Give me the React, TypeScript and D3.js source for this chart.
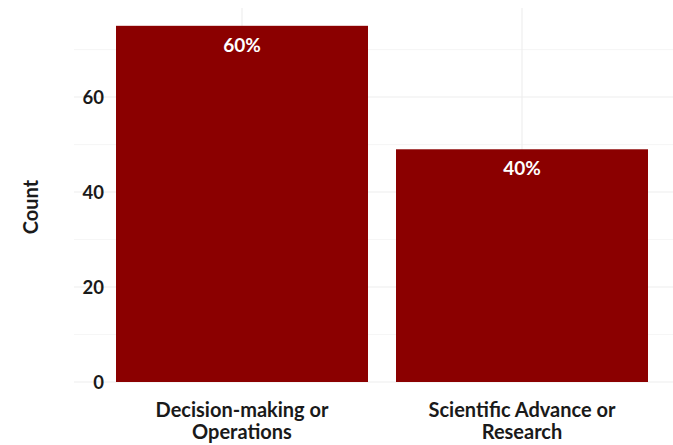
import * as d3 from 'd3';
import * as React from 'react';
import { useEffect, useRef } from 'react';

// data
const categories = ['Decision-making or Operations', 'Scientific Advance or Research'];
const categoryLines = [['Decision-making or', 'Operations'], ['Scientific Advance or', 'Research']];
const counts = [75, 49];
const yTicks = [0, 20, 40, 60];
const yMinorTicks = [10, 30, 50, 70];

const App = () => {
  const ref = useRef<SVGSVGElement>(null);

  useEffect(() => {
    document.body.style.margin = '0';
    const width = 673, height = 445;
    const margin = { top: 8, right: -17, bottom: 63, left: 74 };

    const svg = d3.select(ref.current);
    svg.selectAll('*').remove();

    const total = d3.sum(counts);
    const data = categories.map((c, i) => ({ cat: c, n: counts[i], lines: categoryLines[i] }));

    // discrete axis with ggplot-like 0.6 expansion
    const xc = d3.scaleLinear().domain([0.4, 2.6]).range([margin.left, width - margin.right]);
    const barW = (xc(2) - xc(1)) * 0.9;
    const ymax = d3.max(counts)! * 1.05;
    const y = d3.scaleLinear().domain([0, ymax]).range([height - margin.bottom, margin.top]);

    const font = "Lato, 'Open Sans', sans-serif";
    const grid = svg.append('g');
    const x0 = xc(0.4), x1 = xc(2.6);

    yMinorTicks.filter(t => t <= ymax).forEach(t => {
      grid.append('line').attr('x1', x0).attr('x2', x1).attr('y1', y(t)).attr('y2', y(t))
        .attr('stroke', '#f4f4f4').attr('stroke-width', 0.8);
    });
    yTicks.forEach(t => {
      grid.append('line').attr('x1', x0).attr('x2', x1).attr('y1', y(t)).attr('y2', y(t))
        .attr('stroke', '#ededed').attr('stroke-width', 1.1);
    });
    data.forEach((d, i) => {
      grid.append('line').attr('x1', xc(i + 1)).attr('x2', xc(i + 1))
        .attr('y1', y(0)).attr('y2', y(ymax))
        .attr('stroke', '#ededed').attr('stroke-width', 1.1);
    });

    svg.selectAll('.bar')
      .data(data)
      .enter()
      .append('rect')
      .attr('class', 'bar')
      .attr('x', (d, i) => xc(i + 1) - barW / 2)
      .attr('width', barW)
      .attr('y', d => y(d.n))
      .attr('height', d => y(0) - y(d.n))
      .attr('fill', '#8b0000');

    svg.selectAll('.pct')
      .data(data)
      .enter()
      .append('text')
      .attr('class', 'pct')
      .attr('x', (d, i) => xc(i + 1))
      .attr('y', d => y(d.n) + 26)
      .attr('text-anchor', 'middle')
      .attr('fill', 'white')
      .attr('font-family', font)
      .attr('font-weight', 'bold')
      .attr('font-size', 19)
      .text(d => Math.round(d.n / total * 100) + '%');

    // y tick labels
    yTicks.forEach(t => {
      svg.append('text')
        .attr('x', 104)
        .attr('y', y(t))
        .attr('dy', '0.36em')
        .attr('text-anchor', 'end')
        .attr('font-family', font)
        .attr('font-weight', 'bold')
        .attr('font-size', 18.5)
        .attr('fill', '#1a1a1a')
        .text(t);
    });

    // x tick labels (two lines each)
    data.forEach((d, i) => {
      const t = svg.append('text')
        .attr('text-anchor', 'middle')
        .attr('font-family', font)
        .attr('font-weight', 'bold')
        .attr('font-size', 20)
        .attr('fill', '#1a1a1a');
      d.lines.forEach((l, j) => {
        t.append('tspan').attr('x', xc(i + 1)).attr('y', 417 + j * 22).text(l);
      });
    });

    svg.append('text')
      .attr('transform', `translate(38,${(y(0) + y(ymax)) / 2 + 12}) rotate(-90)`)
      .attr('text-anchor', 'middle')
      .attr('font-family', font)
      .attr('font-weight', 'bold')
      .attr('font-size', 20)
      .attr('fill', '#1a1a1a')
      .text('Count');
  }, []);

  return (
    <svg ref={ref} width={673} height={445} style={{ display: 'block', background: 'white' }} />
  );
};

export default App;
